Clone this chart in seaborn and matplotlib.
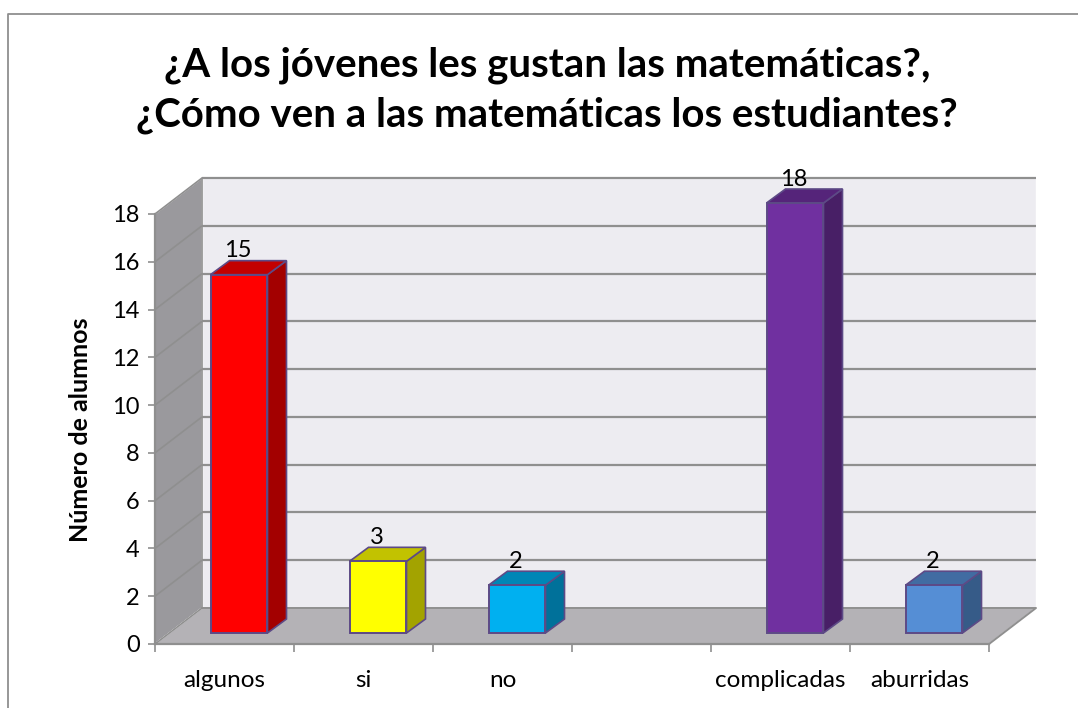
import matplotlib
matplotlib.use('Agg')
import matplotlib.pyplot as plt
import seaborn as sns
from matplotlib.colors import to_rgb
from matplotlib.patches import Polygon, Rectangle
from matplotlib.transforms import Affine2D, IdentityTransform

categorias = ["algunos", "si", "no", "complicadas", "aburridas"]
valores = [15, 3, 2, 18, 2]
orden_eje = ["algunos", "si", "no", "", "complicadas", "aburridas"]
colores = ["#ff0000", "#ffff00", "#00b0f0", "#7030a0", "#558ed5"]
ticks_y = list(range(0, 20, 2))
titulo = "¿A los jóvenes les gustan las matemáticas?,\n¿Cómo ven a las matemáticas los estudiantes?"
etiqueta_y = "Número de alumnos"

GRIS = "#8f8f8f"
BORDE = "#5d4a86"
W, H = 1078, 708
FONDO = (47, 36)    # profundidad de la caja
BARRA_OFF = (14.5, 11)    # la barra no esta pegada al frente
BARRA_PROF = (19, 14)

sns.set_theme(style="white")
plt.rcParams['font.family'] = ['Lato', 'DejaVu Sans']

fig = plt.figure(figsize=(W / 100, H / 100), dpi=100)
ax = fig.add_axes([155 / W, (H - 644) / H, (989 - 155) / W, (644 - 214) / H])

sns.barplot(x=categorias, y=valores, hue=categorias, order=orden_eje, palette=colores,
            saturation=1, width=0.41, legend=False, ax=ax, zorder=5)
ax.set_xlim(-0.5, 5.5)
ax.set_ylim(0, 18)
ax.patch.set_visible(False)


def mover(dx, dy):
    return ax.transData + Affine2D().translate(dx, dy)


def oscurecer(color, f):
    return tuple(c * f for c in to_rgb(color))


def pol(puntos, color, z, **kw):
    p = Polygon(puntos, closed=True, facecolor=color, transform=IdentityTransform(),
                clip_on=False, zorder=z, **kw)
    ax.add_patch(p)


# caja: pared lateral, suelo y pared del fondo
x0, y0 = ax.transData.transform((-0.5, 0))
x1, y1 = ax.transData.transform((5.5, 18))
dx, dy = FONDO
pol([(x0 + dx, y0 + dy), (x1 + dx, y0 + dy), (x1 + dx, y1 + dy), (x0 + dx, y1 + dy)], "#edecf1", 1)
pol([(x0, y0), (x0 + dx, y0 + dy), (x0 + dx, y1 + dy), (x0, y1)], "#9a999d", 1)
pol([(x0, y0), (x1, y0), (x1 + dx, y0 + dy), (x0 + dx, y0 + dy)], "#b4b2b6", 1.5)

# rejilla: pared del fondo y su continuacion en la pared lateral
for t in ticks_y:
    _, yt = ax.transData.transform((0, t))
    ax.plot([x0, x0 + dx], [yt, yt + dy], color=GRIS, lw=1.2, transform=IdentityTransform(),
            clip_on=False, zorder=2, solid_capstyle='butt')
    if t == 0:
        ax.plot([x0 + dx, x1 + dx, x1], [yt + dy, yt + dy, yt], color=GRIS, lw=1.4,
                transform=IdentityTransform(), clip_on=False, zorder=2)
    else:
        ax.plot([x0 + dx, x1 + dx], [yt + dy, yt + dy], color=GRIS, lw=1.6,
                transform=IdentityTransform(), clip_on=False, zorder=2, solid_capstyle='butt')
ax.plot([x0 + dx, x0 + dx], [y0 + dy, y1 + dy], color=GRIS, lw=1.2,
        transform=IdentityTransform(), clip_on=False, zorder=2)

# barras con caras laterales y superior sacadas de las barras de seaborn
barras = sorted([p for p in ax.patches if isinstance(p, Rectangle) and p.get_height() > 0],
                key=lambda p: p.get_x())
for barra, valor, color in zip(barras, valores, colores):
    barra.set_transform(mover(*BARRA_OFF))
    barra.set_clip_on(False)
    barra.set_edgecolor(BORDE)
    barra.set_linewidth(1.4)
    barra.set_zorder(6)
    xa, ya = mover(*BARRA_OFF).transform((barra.get_x(), 0))
    xb, yb = mover(*BARRA_OFF).transform((barra.get_x() + barra.get_width(), valor))
    px, py = BARRA_PROF
    pol([(xb, ya), (xb + px, ya + py), (xb + px, yb + py), (xb, yb)], oscurecer(color, 0.64), 5,
        edgecolor=BORDE, linewidth=1.2)
    pol([(xa, yb), (xb, yb), (xb + px, yb + py), (xa + px, yb + py)], oscurecer(color, 0.76), 5,
        edgecolor=BORDE, linewidth=1.2)
    ax.annotate(str(valor), xy=(barra.get_x() + barra.get_width() / 2, valor),
                xytext=(BARRA_OFF[0] - 1, BARRA_OFF[1] + 24), textcoords='offset pixels',
                ha='center', va='center', fontsize=17, color='black',
                annotation_clip=False, zorder=7)

# ejes
sns.despine(ax=ax, top=True, right=True)
for lado in ("left", "bottom"):
    ax.spines[lado].set_color(GRIS)
    ax.spines[lado].set_linewidth(1.6)
    ax.spines[lado].set_zorder(3)
ax.set_yticks(ticks_y)
ax.tick_params(axis='y', length=5, width=1.2, color=GRIS, labelsize=17, labelcolor='black', pad=6, left=True)
ax.set_xticks(range(6))
ax.set_xticklabels(orden_eje)
ax.tick_params(axis='x', which='major', length=0, labelsize=17.5, labelcolor='black', pad=19)
ax.set_xticks([i - 0.5 for i in range(7)], minor=True)
ax.tick_params(axis='x', which='minor', length=6, width=1.2, color=GRIS, bottom=True)
for etiqueta in ax.get_xticklabels():
    if etiqueta.get_text() == "aburridas":
        etiqueta.set_x(4.98)

fig.text(80 / W, 1 - 430 / H, etiqueta_y, rotation=90, ha='center', va='center',
         fontsize=18, fontweight='bold', color='black')
fig.text(547 / W, 1 - 90 / H, titulo, ha='center', va='center', fontsize=29,
         fontweight='bold', color='black', linespacing=1.4)

# marco del grafico, cortado por abajo y por la derecha
fig.add_artist(plt.Line2D([8 / W, 8 / W, 1], [0, 1 - 14 / H, 1 - 14 / H], color=GRIS, lw=1.3))

fig.savefig("out.png", dpi=100)
